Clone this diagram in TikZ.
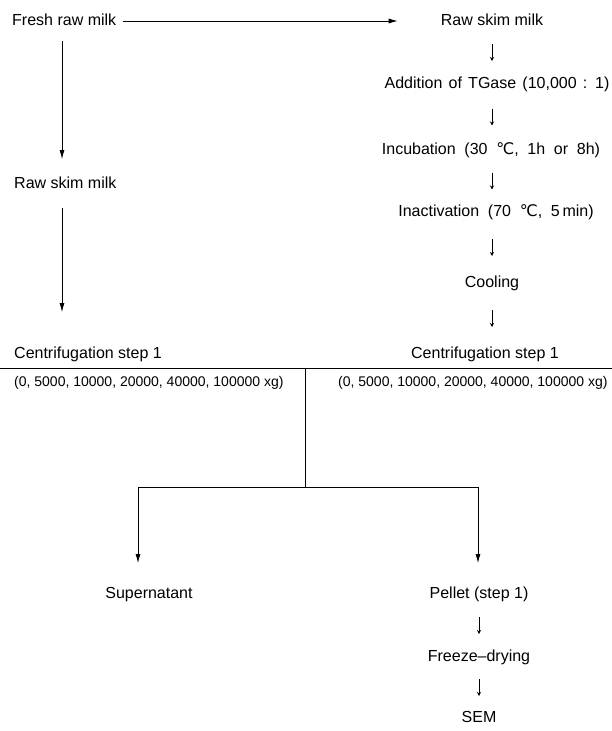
\documentclass[tikz,border=0pt]{standalone}
\usepackage{fontspec}
\setmainfont{Liberation Sans}
\newfontfamily\widefont{Liberation Sans}[WordSpace=2]
\newfontfamily\midfont{Liberation Sans}[WordSpace=1.4]
\newfontfamily\dejavu{DejaVu Sans}
\newcommand{\degC}{{\dejavu ℃}}
\usepackage{tikz}
\usetikzlibrary{arrows.meta,positioning}

\begin{document}
\begin{tikzpicture}[x=1pt, y=-1pt]
		\tikzstyle{Step}	= [inner sep=0pt, text height=12pt, text depth=3.5pt, font=\fontsize{16}{19}\selectfont]
		\tikzstyle{Wide}	= [font=\fontsize{16}{19}\widefont]
		\tikzstyle{Range}	= [Step, font=\fontsize{14}{17}\selectfont]
		\tikzstyle{Big}		= [-{Latex[length=9pt, width=5pt]}, line width=0.8pt]
		\tikzset{Flow/.style={-{Stealth[length=4pt, width=4pt]}, line width=0.6pt, shorten <=#1, shorten >=#1}, Flow/.default=23pt}

		\useasboundingbox (0,0) rectangle (612,731);

		% left column
		\node (fresh) at (12, 21) [Step, anchor=west] {Fresh raw milk};
		\node (rawL) at (14, 184) [Step, anchor=west] {Raw skim milk};
		\node (centL) at (14, 354) [Step, anchor=west] {Centrifugation step 1};
		\node (rangeL) at (14, 382) [Range, anchor=west] {(0, 5000, 10000, 20000, 40000, 100000 xg)};
		\coordinate (lcol) at (62, 0);

		% right column
		\node (rawR) at (492, 21) [Step] {Raw skim milk};
		\node (addTG) at (497, 84) [Step, font=\fontsize{16}{19}\midfont] {Addition of TGase (10,000 : 1)};
		\node (incub) at (491, 150) [Step, Wide] {Incubation (30 \degC, 1h or 8h)};
		\node (inact) at (496, 212) [Step, Wide] {Inactivation (70 \degC, 5\,min)};
		\node (cool) at (492, 283) [Step] {Cooling};
		\node (centR) at (485, 354) [Step] {Centrifugation step 1};
		\node (rangeR) at (338, 382) [Range, anchor=west] {(0, 5000, 10000, 20000, 40000, 100000 xg)};
		\coordinate (rcol) at (492, 0);

		% after centrifugation
		\node (super) at (149, 594) [Step] {Supernatant};
		\node (pellet) at (479, 594) [Step] {Pellet (step 1)};
		\node (freeze) at (479, 657) [Step] {Freeze--drying};
		\node (sem) at (479, 718) [Step] {SEM};

		\coordinate (lineL) at (0, 368);
		\coordinate (lineR) at (612, 368);
		\coordinate (split) at (305, 368);
		\coordinate (fork) at (305, 487);

		\draw [Big, shorten <=7pt, shorten >=43pt] (fresh.east) -- (rawR.west);
		\draw [Big, shorten <=12pt, shorten >=17pt] (fresh.south -| lcol) -- (rawL.north -| lcol);
		\draw [Big, shorten <=16pt, shorten >=34pt] (rawL.south -| lcol) -- (centL.north -| lcol);

		\draw [Flow] (rawR.center -| rcol) -- (addTG.center -| rcol);
		\draw [Flow=24.5pt] (addTG.center -| rcol) -- (incub.center -| rcol);
		\draw [Flow=22.5pt] (incub.center -| rcol) -- (inact.center -| rcol);
		\draw [Flow=27pt] (inact.center -| rcol) -- (cool.center -| rcol);
		\draw [Flow=27pt] (cool.center -| rcol) -- (centR.center -| rcol);

		\draw [line width=0.8pt] (lineL) -- (lineR);
		\draw [line width=0.6pt] (split) -- (fork);
		\draw [Big, shorten >=23pt] (fork) -| ([xshift=-11pt]super.north);
		\draw [Big, shorten >=23pt] (fork) -| ([xshift=-1pt]pellet.north);

		\draw [Flow] (pellet.center) -- (freeze.center);
		\draw [Flow=22pt] (freeze.center) -- (sem.center);
	\end{tikzpicture}
\end{document}
